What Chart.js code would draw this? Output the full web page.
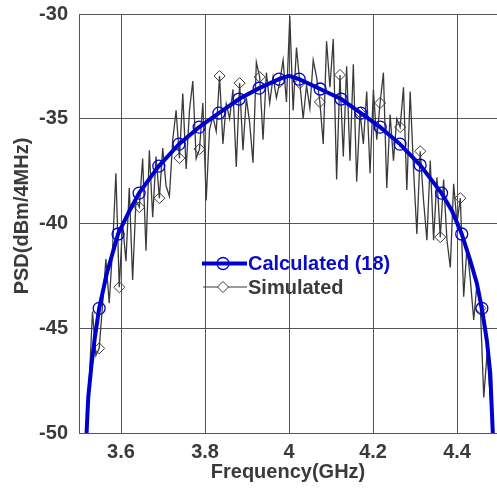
<!DOCTYPE html>
<html>
<head>
<meta charset="utf-8">
<script src="https://cdn.jsdelivr.net/npm/chart.js@4"></script>
<style>
  html, body { margin: 0; padding: 0; background: #fff; }
  #wrap { position: relative; width: 497px; height: 491px; }
</style>
</head>
<body>
<div id="wrap"><canvas id="psdChart"></canvas></div>
<script>
const xTicks = [3.6, 3.8, 4, 4.2, 4.4];
const yTicks = [-50, -45, -40, -35, -30];

// calculated PSD, eq. (18)
const calcFreq = [3.518, 3.522, 3.530, 3.538, 3.548, 3.566, 3.593, 3.620, 3.643, 3.690,
  3.738, 3.786, 3.833, 3.881, 3.929, 3.976, 4.000, 4.024, 4.074, 4.124,
  4.171, 4.217, 4.264, 4.312, 4.363, 4.388, 4.411, 4.431, 4.447, 4.459,
  4.471, 4.479, 4.485];
const calcPsd = [-50.0, -48.3, -46.7, -45.4, -44.05, -42.4, -40.5, -39.4, -38.55, -37.26,
  -36.21, -35.40, -34.73, -34.06, -33.54, -33.11, -32.95, -33.11, -33.58, -34.06,
  -34.73, -35.40, -36.21, -37.21, -38.55, -39.4, -40.5, -41.75, -42.85, -44.05,
  -45.6, -47.15, -50.0];
const calcMarkIdx = [4, 6, 8, 9, 10, 11, 12, 13, 14, 15, 17, 18, 19, 20, 21, 22, 23, 24, 26, 29];

// simulated PSD, one value per frequency bin
const simStart = 3.5162;
const simStep = 0.00796;
const simPsd = [-50.3, -47.6, -44.2, -46.3, -45.96, -43.9, -41.7, -43.8, -41.2, -37.6,
  -43.04, -40.0, -41.8, -38.3, -42.7, -38.9, -39.22, -36.9, -41.3, -36.5,
  -39.7, -36.8, -38.79, -36.4, -38.2, -38.7, -36.0, -34.6, -36.88, -33.8,
  -37.4, -34.6, -33.2, -36.9, -36.45, -34.25, -38.9, -35.5, -34.9, -35.6,
  -32.96, -36.2, -34.3, -35.0, -33.6, -37.3, -33.3, -36.5, -34.0, -35.2,
  -37.1, -32.3, -33.01, -36.0, -32.8, -34.25, -33.0, -34.0, -33.25, -32.2,
  -34.2, -30.1, -34.6, -31.6, -33.3, -35.0, -33.4, -34.5, -32.2, -33.0,
  -34.2, -36.2, -31.3, -33.5, -31.2, -37.9, -32.91, -36.8, -32.5, -37.0,
  -32.4, -38.0, -34.7, -36.2, -33.7, -37.6, -33.6, -36.0, -34.25, -32.8,
  -38.3, -34.8, -37.0, -35.0, -35.4, -33.5, -38.4, -33.7, -37.4, -40.5,
  -36.55, -38.9, -40.8, -37.0, -40.8, -37.8, -40.65, -37.9, -40.8, -42.1,
  -38.1, -40.0, -38.79, -43.5, -41.1, -42.7, -44.6, -42.85, -44.05, -48.3,
  -46.2, -48.4, -50.5];
const simMarkIdx = [4, 10, 16, 22, 28, 34, 40, 46, 52, 58, 64, 70, 76, 82, 88, 94, 100, 106, 112, 118];

const blue = '#0000cd';
const simGray = '#3a3a3a';
const textGray = '#3a3a3a';
const gridGray = '#555555';
const fontFam = "'Liberation Sans', Arial, sans-serif";

Chart.defaults.font.family = fontFam;

const calcData = calcFreq.map((f, i) => ({ x: f, y: calcPsd[i] }));
const simData = simPsd.map((v, i) => ({ x: simStart + i * simStep, y: v }));

// legend drawn MATLAB style: line through marker, text to the right
const legendBox = {
  id: 'legendBox',
  afterDatasetsDraw(chart) {
    const ctx = chart.ctx;
    ctx.save();
    ctx.font = 'bold 20px ' + fontFam;
    ctx.textBaseline = 'middle';
    ctx.textAlign = 'left';

    // Calculated
    ctx.strokeStyle = blue;
    ctx.lineWidth = 4;
    ctx.beginPath(); ctx.moveTo(202, 263.5); ctx.lineTo(247, 263.5); ctx.stroke();
    ctx.lineWidth = 1.3;
    ctx.beginPath(); ctx.arc(223, 263.5, 6, 0, Math.PI * 2); ctx.stroke();
    ctx.fillStyle = '#0c0cc4';
    ctx.fillText('Calculated (18)', 248, 264);

    // Simulated
    ctx.strokeStyle = simGray;
    ctx.lineWidth = 1;
    ctx.beginPath(); ctx.moveTo(203, 287); ctx.lineTo(247, 287); ctx.stroke();
    ctx.beginPath();
    ctx.moveTo(223, 281.5); ctx.lineTo(228.5, 287); ctx.lineTo(223, 292.5); ctx.lineTo(217.5, 287);
    ctx.closePath();
    ctx.fillStyle = '#fff';
    ctx.fill(); ctx.stroke();
    ctx.fillStyle = textGray;
    ctx.fillText('Simulated', 248, 288);
    ctx.restore();
  }
};

const axisTitles = {
  id: 'axisTitles',
  afterDraw(chart) {
    const ctx = chart.ctx;
    const a = chart.chartArea;
    ctx.save();
    ctx.font = 'bold 20px ' + fontFam;
    ctx.fillStyle = textGray;
    ctx.textAlign = 'center';
    ctx.textBaseline = 'middle';
    ctx.fillText('Frequency(GHz)', (a.left + a.right) / 2, 472);
    ctx.translate(22, 216);
    ctx.rotate(-Math.PI / 2);
    ctx.fillText('PSD(dBm/4MHz)', 0, 0);
    ctx.restore();
  }
};

new Chart(document.getElementById('psdChart'), {
  type: 'scatter',
  data: {
    datasets: [
      {
        label: 'Calculated (18)',
        data: calcData,
        showLine: true,
        borderColor: blue,
        borderWidth: 4,
        pointStyle: 'circle',
        pointRadius: c => calcMarkIdx.includes(c.dataIndex) ? 6 : 0,
        pointBorderWidth: 1.3,
        pointBorderColor: blue,
        pointBackgroundColor: 'rgba(0,0,0,0)'
      },
      {
        label: 'Simulated',
        data: simData,
        showLine: true,
        borderColor: simGray,
        borderWidth: 1.3,
        pointStyle: 'rectRot',
        pointRadius: c => simMarkIdx.includes(c.dataIndex) ? 5.5 : 0,
        pointBorderWidth: 1,
        pointBorderColor: simGray,
        pointBackgroundColor: 'rgba(0,0,0,0)'
      }
    ]
  },
  options: {
    responsive: true,
    maintainAspectRatio: false,
    animation: false,
    events: [],
    layout: { padding: { top: 14, right: 0, left: 0, bottom: 0 } },
    plugins: { legend: { display: false }, tooltip: { enabled: false } },
    scales: {
      x: {
        type: 'linear',
        min: 3.5,
        max: 4.495,
        afterBuildTicks: axis => { axis.ticks = xTicks.map(v => ({ value: v })); },
        afterFit: axis => {
          axis.height = 58;
          axis.paddingLeft = 0;
          axis.paddingRight = 0;
        },
        grid: { color: gridGray, lineWidth: 1, drawTicks: false },
        border: { display: true, color: gridGray, width: 1 },
        ticks: {
          padding: 7,
          color: textGray,
          font: { size: 20, weight: 'bold' },
          callback: v => String(v),
          maxRotation: 0
        }
      },
      y: {
        type: 'linear',
        min: -50,
        max: -30,
        afterBuildTicks: axis => { axis.ticks = yTicks.map(v => ({ value: v })); },
        afterFit: axis => {
          axis.width = 79;
          axis.paddingTop = 0;
          axis.paddingBottom = 0;
        },
        grid: { color: gridGray, lineWidth: 1, drawTicks: false },
        border: { display: true, color: gridGray, width: 1 },
        ticks: {
          padding: 11,
          color: textGray,
          font: { size: 20, weight: 'bold' },
          callback: v => String(v)
        }
      }
    }
  },
  plugins: [legendBox, axisTitles]
});
</script>
</body>
</html>
